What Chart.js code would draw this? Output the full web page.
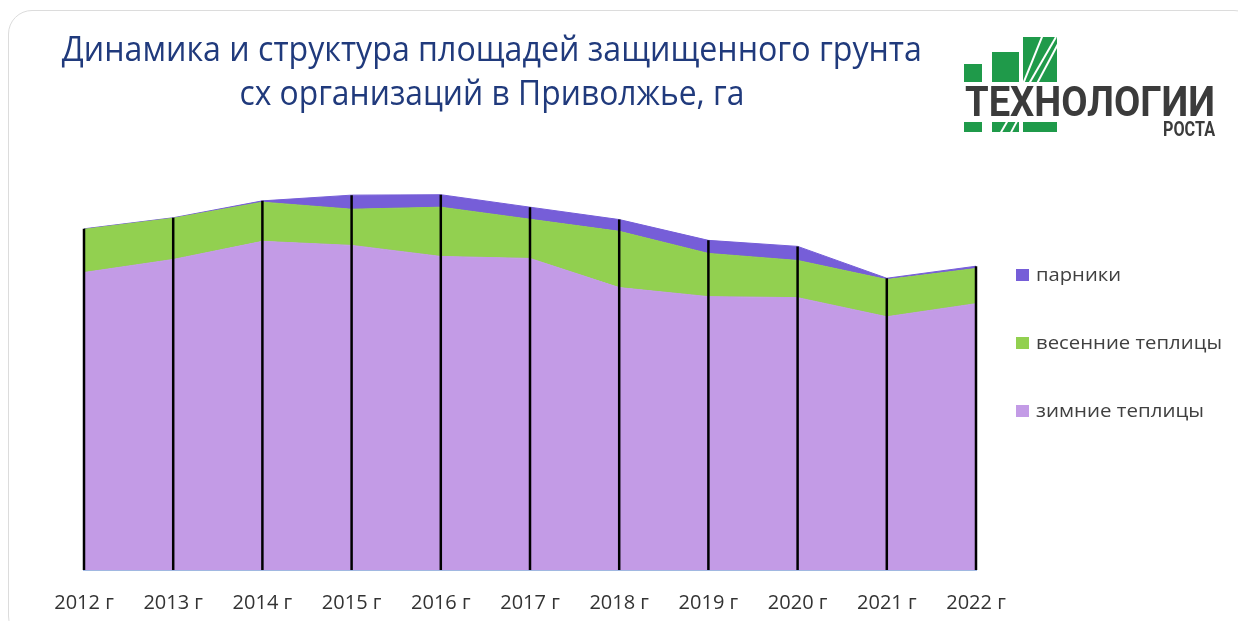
<!DOCTYPE html>
<html>
<head>
<meta charset="utf-8">
<script src="https://cdn.jsdelivr.net/npm/chart.js@4"></script>
<style>
  html, body { margin:0; padding:0; background:#fff; width:1238px; height:621px; overflow:hidden; font-family:"Open Sans", sans-serif; }
  #card { position:absolute; left:8px; top:10px; width:1250px; height:630px; border:1.5px solid #dcdcdc; border-radius:24px; box-sizing:border-box; }
  #chart { position:absolute; left:0; top:0; }
  .title { position:absolute; left:0; width:984px; text-align:center; color:#203a7c; font-size:34px; line-height:44px; white-space:nowrap; }
  .title span { display:inline-block; transform-origin:center; }
  .leg { position:absolute; left:1016px; height:20px; font-size:19px; line-height:20px; color:#404040; white-space:nowrap; }
  .leg i { position:absolute; left:0; top:4px; width:13px; height:12px; }
  .leg span { position:absolute; left:20px; top:-1px; display:inline-block; transform-origin:left center; }
  .sq { position:absolute; background:#1f9a4a; }
  .logoT { position:absolute; font-family:Roboto, sans-serif; font-weight:700; color:#3b3b3b; white-space:nowrap; transform-origin:left top; }
  .slash { position:absolute; background:#fff; height:2px; transform-origin:left center; }
</style>
</head>
<body>
<div id="card"></div>
<canvas id="chart" width="1238" height="646"></canvas>

<div class="title" style="top:26px"><span id="t1">Динамика и структура площадей защищенного грунта</span></div>
<div class="title" style="top:70px"><span id="t2">сх организаций в Приволжье, га</span></div>

<div id="legend"></div>

<!-- logo -->
<div class="sq" style="left:964px;top:64px;width:18px;height:18px"></div>
<div class="sq" style="left:992px;top:52px;width:27px;height:30px"></div>
<div class="sq" style="left:1023px;top:37px;width:34px;height:45px"></div>
<div class="sq" style="left:964px;top:122px;width:18px;height:10px"></div>
<div class="sq" style="left:992px;top:122px;width:27px;height:10px"></div>
<div class="sq" style="left:1023px;top:122px;width:34px;height:10px"></div>
<div class="slash" style="left:1000px;top:133px;width:112px;transform:rotate(-60deg)"></div>
<div class="slash" style="left:1010px;top:133px;width:110px;transform:rotate(-62deg);height:1.5px"></div>
<div class="slash" style="left:1020px;top:90px;width:60px;transform:rotate(-68deg);height:1.5px"></div>
<div class="logoT" id="lt1" style="left:965px;top:80px;font-size:42px;line-height:44px">ТЕХНОЛОГИИ</div>
<div class="logoT" id="lt2" style="left:1163px;top:117px;font-size:21px;line-height:24px">РОСТА</div>

<script>
// ---- data (area in ha) ----
const years = ["2012 г","2013 г","2014 г","2015 г","2016 г","2017 г","2018 г","2019 г","2020 г","2021 г","2022 г"];
const zimnie   = [296, 309, 327, 323, 312, 310, 281, 272, 271, 252, 265];
const vesennie = [43, 41, 39, 36, 49, 39, 56, 43, 37, 37, 35];
const parniki  = [0.5, 0.5, 1.3, 14, 12.4, 12, 11.7, 13, 14, 1.3, 2.3];
const seriesNames = ["зимние теплицы", "весенние теплицы", "парники"];
const seriesColors = ["#c39be6", "#92d050", "#765ed8"];

// fit helper for text widths
function fit(id, w){ const el=document.getElementById(id); const r=el.getBoundingClientRect().width; el.style.transform='scaleX('+(w/r)+')'; }

const dropLines = {
  id:'dropLines',
  afterDatasetsDraw(chart){
    const {ctx, scales:{x,y}} = chart;
    ctx.save();
    ctx.strokeStyle = '#000';
    ctx.lineWidth = 2.5;
    years.forEach((_, i) => {
      const total = zimnie[i] + vesennie[i] + parniki[i];
      const px = x.getPixelForValue(i);
      ctx.beginPath();
      ctx.moveTo(px, y.getPixelForValue(0));
      ctx.lineTo(px, y.getPixelForValue(total));
      ctx.stroke();
    });
    ctx.restore();
  }
};

const seriesData = [zimnie, vesennie, parniki];
new Chart(document.getElementById('chart'), {
  type:'line',
  data:{
    labels: years,
    datasets: seriesData.map((d, k) => ({
      label: seriesNames[k],
      data: d,
      backgroundColor: seriesColors[k],
      borderColor: seriesColors[k],
      borderWidth: 1,
      fill: k === 0 ? 'origin' : '-1',
      pointRadius: 0,
      tension: 0
    }))
  },
  options:{
    responsive:false,
    animation:false,
    layout:{ padding:{ left:84, right:262, top:168, bottom:10 } },
    plugins:{ legend:{display:false}, tooltip:{enabled:false}, title:{display:false} },
    scales:{
      x:{
        offset:false,
        z:1,
        grid:{ display:false, drawTicks:false },
        border:{ display:true, color:'#4472c4', width:1.5 },
        ticks:{ color:'#333', font:{ family:'"Open Sans"', size:20 }, padding:21, autoSkip:false, maxRotation:0 }
      },
      y:{ display:false, stacked:true, min:0, max:400 }
    }
  },
  plugins:[dropLines]
});

// legend (reverse order as in the reference)
const legend = document.getElementById('legend');
const legTops = [265, 333, 401];
const legW = [168, 186, 85];
[2,1,0].forEach((k, j) => {
  const d = document.createElement('div');
  d.className = 'leg';
  d.style.top = legTops[j] + 'px';
  d.innerHTML = '<i style="background:'+seriesColors[k]+'"></i><span id="lg'+k+'">'+seriesNames[k]+'</span>';
  legend.appendChild(d);
});
fit('t1', 860); fit('t2', 505);
[0,1,2].forEach(k => fit('lg'+k, legW[k]));
fit('lt1', 250); fit('lt2', 52);
</script>
</body>
</html>
